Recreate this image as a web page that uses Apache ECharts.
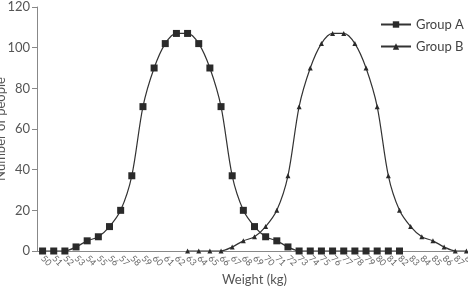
<!DOCTYPE html>
<html><head><meta charset="utf-8">
<script src="https://cdn.jsdelivr.net/npm/echarts@6/dist/echarts.min.js"></script>
<style>html,body{margin:0;padding:0;background:#fff}#c{width:468px;height:289px}</style>
</head><body><div id="c"></div>
<script>
const weights = [];
for (let w = 50; w <= 88; w++) weights.push(String(w));
const groupA = [0,0,0,2,5,7,12,20,37,71,90,102,107,107,102,90,71,37,20,12,7,5,2,0,0,0,0,0,0,0,0,0,0,null,null,null,null,null,null];
const groupB = [null,null,null,null,null,null,null,null,null,null,null,null,null,0,0,0,0,2,5,7,12,20,37,71,90,102,107,107,102,90,71,37,20,12,7,5,2,0,0];
const yTicks = [0,20,40,60,80,100,120];

const font = 'Lato';
const chart = echarts.init(document.getElementById('c'), null, {renderer:'canvas'});
chart.setOption({
  animation:false,
  textStyle:{fontFamily:font},
  grid:{left:37, top:7, bottom:38, right:-4, containLabel:false, outerBoundsMode:'none'},
  legend:{
    orient:'vertical', left:375, top:13, itemWidth:30, itemHeight:8, itemGap:9,
    textStyle:{fontFamily:font, fontSize:13, color:'#444'},
    data:['Group A','Group B']
  },
  xAxis:[{
    type:'category', data:weights, boundaryGap:true,
    name:'Weight (kg)', nameLocation:'middle', nameGap:22, nameMoveOverlap:false,
    nameTextStyle:{fontFamily:font, fontSize:13, color:'#555'},
    axisLine:{lineStyle:{color:'#888', width:1}},
    axisTick:{length:4, lineStyle:{color:'#888'}},
    axisLabel:{interval:0, rotate:-45, margin:6, fontSize:9, color:'#666', fontFamily:font, hideOverlap:false}
  },{
    type:'category', data:weights, boundaryGap:true, position:'bottom',
    axisLine:{show:false},
    axisTick:{inside:true, length:4, lineStyle:{color:'#888'}},
    axisLabel:{show:false}
  }],
  yAxis:{
    type:'value', min:0, max:120, interval:20,
    name:'Number of people', nameLocation:'middle', nameGap:30, nameMoveOverlap:false,
    nameTextStyle:{fontFamily:font, fontSize:13, color:'#555'},
    splitLine:{show:false},
    axisLine:{show:true, lineStyle:{color:'#888'}},
    axisTick:{show:true, length:5, lineStyle:{color:'#888'}},
    axisLabel:{margin:7, fontSize:13, color:'#555', fontFamily:font,
      formatter:v => yTicks.includes(v) ? String(v) : ''}
  },
  series:[{
    name:'Group A', type:'line', data:groupA, smooth:0.3,
    symbol:'rect', symbolSize:7, showAllSymbol:true,
    itemStyle:{color:'#2a2a2a'}, lineStyle:{color:'#333', width:1.2}
  },{
    name:'Group B', type:'line', data:groupB, smooth:0.3,
    symbol:'triangle', symbolSize:5, showAllSymbol:true,
    itemStyle:{color:'#2a2a2a'}, lineStyle:{color:'#333', width:1.2}
  }]
});
</script></body></html>
